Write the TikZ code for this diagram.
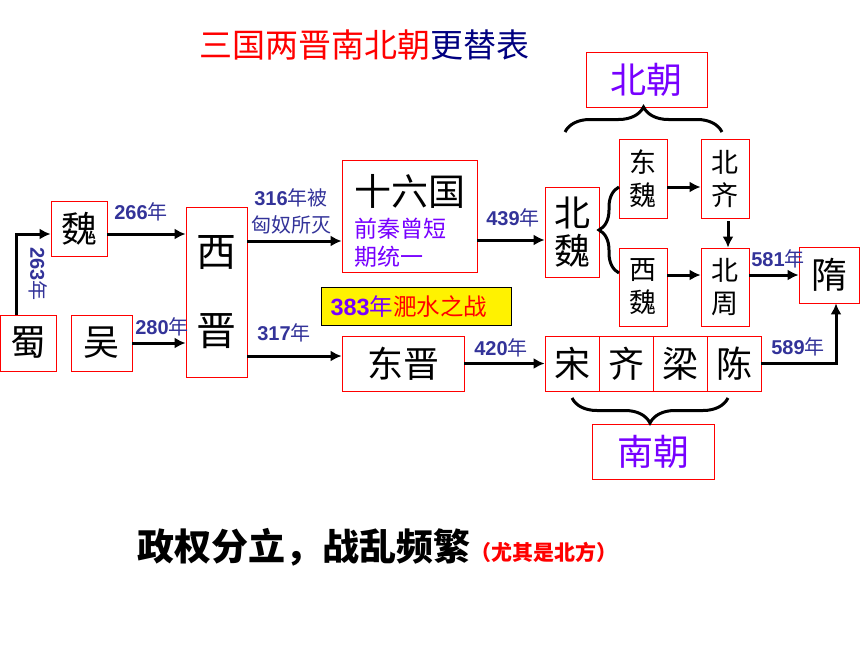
\documentclass[tikz,border=0pt]{standalone}
\usepackage{fontspec}
\setmainfont{Noto Sans CJK SC}
\newfontfamily\arialfont{Liberation Sans}
\usetikzlibrary{decorations.pathreplacing, arrows.meta}

\definecolor{yearblue}{RGB}{51,51,153}
\definecolor{chaopurple}{RGB}{119,0,255}
\definecolor{titlenavy}{RGB}{0,0,128}

\newcommand{\nian}[1]{{\arialfont\bfseries #1}年}

\tikzstyle{box}=[
    draw=red,
    line width=0.8pt,
    inner sep=0pt,
    align=center,
    font=\fontsize{36}{40}\selectfont,
  ]
\tikzstyle{smallbox}=[
    box,
    minimum width=48pt,
    font=\fontsize{27}{33}\selectfont,
  ]
\tikzstyle{dep}=[
    -{Latex[length=11pt,width=11pt]},
    line width=3pt,
  ]
\tikzstyle{yr}=[
    text=yearblue,
    inner sep=0pt,
    align=center,
    font=\fontsize{20}{27}\selectfont,
  ]
\tikzstyle{curly}=[
    decorate,
    line width=3pt,
  ]

\begin{document}
\begin{tikzpicture}[x=1pt, y=-1pt]
      \useasboundingbox (0,0) rectangle (860,645);
      \node[font=\fontsize{33}{36}\selectfont] (title) at (364,45)
        {\textcolor{red}{三国两晋南北朝}\textcolor{titlenavy}{更替表}};

      % three kingdoms and jin
      \node[box, minimum width=56pt, minimum height=56pt] (shu) at (28,343) {蜀};
      \node[box, minimum width=56pt, minimum height=55pt] (wei) at (79,228.5) {魏};
      \node[box, minimum width=61pt, minimum height=56pt] (wu) at (101.5,343) {吴};
      \node[box, minimum width=61pt, minimum height=170pt,
            font=\fontsize{40}{79}\selectfont] (xijin) at (216.5,292) {西\\晋};
      \node[box, minimum width=135pt, minimum height=112pt, text width=111pt,
            align=left, font=\fontsize{37}{37}\selectfont] (shiliu) at (409.5,216)
        {\rule{0pt}{40pt}十六国\\[4pt]{\color{chaopurple}\fontsize{23}{28}\selectfont 前秦曾短\\期统一\par}};
      \node[box, minimum width=122pt, minimum height=55pt] (dongjin) at (403,363.5) {东晋};
      \node[draw, fill=yellow, line width=0.6pt, inner xsep=9pt, text width=172pt,
            align=left, minimum height=38pt, font=\fontsize{23.5}{26}\selectfont]
        (feishui) at (416.5,306.5)
        {\textcolor{chaopurple}{\nian{383}}\textcolor{red}{淝水之战}};

      % north and south
      \node[box, minimum width=54pt, minimum height=90pt,
            font=\fontsize{36}{38}\selectfont] (beiwei) at (572,232) {北\\魏};
      \node[smallbox, minimum height=79pt] (dongwei) at (643,178.5) {东\\魏};
      \node[smallbox, minimum height=79pt] (beiqi) at (725,178.5) {北\\齐};
      \node[smallbox, minimum height=78pt] (xiwei) at (643,287) {西\\魏};
      \node[smallbox, minimum height=78pt] (beizhou) at (725,287) {北\\周};
      \foreach \n/\t [count=\i] in {song/宋, qi/齐, liang/梁, chen/陈} {%
        \node[box, minimum width=54pt, minimum height=55pt] (\n) at (518+54*\i, 363.5) {\t};
      }
      \node[box, minimum width=60pt, minimum height=56pt] (sui) at (829,275) {隋};
      \node[box, minimum width=121pt, minimum height=55pt, text=chaopurple] (beichao) at (646.5,79.5) {北朝};
      \node[box, minimum width=122pt, minimum height=55pt, text=chaopurple] (nanchao) at (653,451.5) {南朝};

      % year labels
      \node[yr, rotate=-90] (y263) at (38,274) {\nian{263}};
      \node[yr] (y266) at (141,212) {\nian{266}};
      \node[yr] (y280) at (162,327) {\nian{280}};
      \node[yr] (y316) at (291,211) {\nian{316}被\\匈奴所灭};
      \node[yr] (y317) at (284,333) {\nian{317}};
      \node[yr] (y439) at (513,218) {\nian{439}};
      \node[yr] (y420) at (501,348) {\nian{420}};
      \node[yr] (y581) at (778,259) {\nian{581}};
      \node[yr] (y589) at (798,347) {\nian{589}};

      \coordinate (toshiliu) at ([yshift=-25pt]shiliu.west);
      \coordinate (tobeiwei) at ([yshift=-8pt]beiwei.west);
      \coordinate (todongjin) at ([yshift=7.5pt]dongjin.west);
      \coordinate (tobeiqi) at ([yshift=-8.5pt]beiqi.west);
      \coordinate (tobeizhou) at ([yshift=12pt]beizhou.west);

      \draw[dep] ([xshift=-12pt]shu.north) |- ([yshift=-5.5pt]wei.west);
      \draw[dep] ([yshift=-5.5pt]wei.east) -- ([yshift=-5.5pt]wei.east -| xijin.west);
      \draw[dep] (wu.east) -- (wu.east -| xijin.west);
      \draw[dep] (xijin.east |- toshiliu) -- (toshiliu);
      \draw[dep] (xijin.east |- todongjin) -- (todongjin);
      \draw[dep] (shiliu.east |- tobeiwei) -- (tobeiwei);
      \draw[dep] (dongjin.east) -- (song.west);
      \draw[dep] (dongwei.east |- tobeiqi) -- (tobeiqi);
      \draw[dep] ([xshift=3pt,yshift=-3pt]beiqi.south) -- ([xshift=3pt]beizhou.north);
      \draw[dep] (xiwei.east |- tobeizhou) -- (tobeizhou);
      \draw[dep] (beizhou.east |- sui.west) -- (sui.west);
      \draw[dep] (chen.east) -| ([xshift=7pt]sui.south);

      % braces
      \coordinate (bcL) at (565,132);
      \coordinate (bcR) at (722,132);
      \coordinate (bwT) at (619,187);
      \coordinate (bwB) at (619,273);
      \coordinate (ncL) at (572,398);
      \coordinate (ncR) at (728,398);
      \draw[curly, decoration={brace, amplitude=25pt}] (bcL) -- (bcR);
      \draw[curly, decoration={brace, amplitude=20pt}] (bwB) -- (bwT);
      \draw[curly, decoration={brace, amplitude=25pt}] (ncR) -- (ncL);

      \node[anchor=west, inner sep=0pt] (motto) at (137,547)
        {\fontsize{37}{40}\selectfont\bfseries 政权分立，战乱频繁\textcolor{red}{\fontsize{21}{24}\selectfont （尤其是北方）}};
    \end{tikzpicture}
\end{document}
